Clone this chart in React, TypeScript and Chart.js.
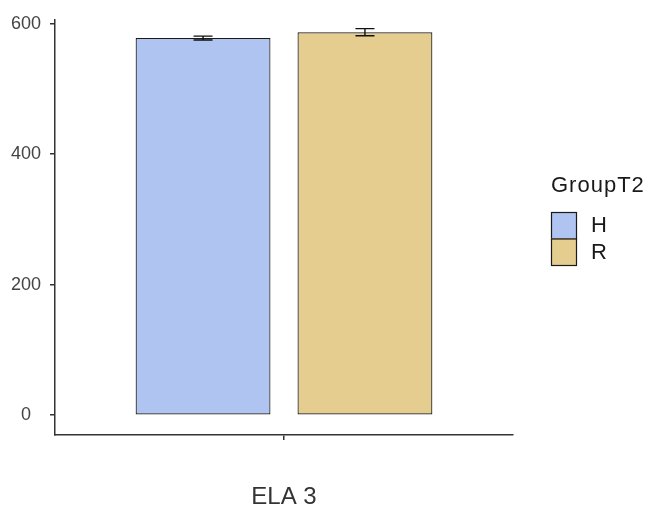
import React, { useEffect, useRef } from "react";
import { Chart, registerables } from "chart.js";

Chart.register(...registerables);

const categories = ["ELA 3"];
const groupLabels = ["H", "R"];
const groupMeans = [578, 587];
const groupErrors = [3, 5.5];
const groupColors = ["#AFC4F0", "#E5CC8F"];
const yTicks = [0, 200, 400, 600];
const legendTitle = "GroupT2";

const FONT = "'Liberation Sans', Arial, sans-serif";

const errorBarPlugin = {
  id: "errorBars",
  afterDatasetsDraw(chart: any) {
    const ctx = chart.ctx;
    const y = chart.scales.y;
    ctx.save();
    ctx.strokeStyle = "#111";
    ctx.lineWidth = 1.4;
    chart.data.datasets.forEach((ds: any, i: number) => {
      const meta = chart.getDatasetMeta(i);
      meta.data.forEach((bar: any, j: number) => {
        const v = ds.data[j];
        const e = groupErrors[i];
        const x = bar.x;
        const yt = y.getPixelForValue(v + e);
        const yb = y.getPixelForValue(v - e);
        const hw = 9.5;
        ctx.beginPath();
        ctx.moveTo(x, yt);
        ctx.lineTo(x, yb);
        ctx.moveTo(x - hw, yt);
        ctx.lineTo(x + hw, yt);
        ctx.moveTo(x - hw, yb);
        ctx.lineTo(x + hw, yb);
        ctx.stroke();
      });
    });
    ctx.restore();
  },
};

const legendPlugin = {
  id: "customLegend",
  afterDraw(chart: any) {
    const ctx = chart.ctx;
    ctx.save();
    ctx.fillStyle = "#1a1a1a";
    ctx.font = `22px ${FONT}`;
    ctx.textBaseline = "middle";
    ctx.textAlign = "left";
    try {
      (ctx as any).letterSpacing = "1px";
    } catch (e) {}
    ctx.fillText(legendTitle, 551, 186);
    try {
      (ctx as any).letterSpacing = "0px";
    } catch (e) {}
    const x0 = 551;
    const y0 = 212;
    const w = 25;
    const h = 26.5;
    groupLabels.forEach((lab, i) => {
      const yy = y0 + i * h;
      ctx.fillStyle = groupColors[i];
      ctx.fillRect(x0, yy, w, h);
      ctx.strokeStyle = "#1a1a1a";
      ctx.lineWidth = 1.2;
      ctx.strokeRect(x0 + 0.5, yy + 0.5, w, h);
      ctx.fillStyle = "#1a1a1a";
      ctx.font = `22px ${FONT}`;
      ctx.fillText(lab, 591, yy + h / 2 + 1);
    });
    ctx.restore();
  },
};

export default function App() {
  const ref = useRef<HTMLCanvasElement>(null);
  useEffect(() => {
    if (!ref.current) return;
    const chart = new Chart(ref.current, {
      type: "bar",
      data: {
        labels: categories,
        datasets: groupLabels.map((lab, i) => ({
          label: lab,
          data: [groupMeans[i]],
          backgroundColor: groupColors[i],
          borderColor: "#1a1a1a",
          borderWidth: 1.2,
          borderSkipped: false,
          barPercentage: 0.833,
          categoryPercentage: 0.707,
        })),
      },
      options: {
        animation: false,
        responsive: false,
        maintainAspectRatio: false,
        layout: { padding: { left: 0, right: 140, top: 15, bottom: 0 } },
        plugins: {
          legend: { display: false },
          tooltip: { enabled: false },
        },
        scales: {
          x: {
            grid: {
              drawOnChartArea: false,
              drawTicks: true,
              offset: false,
              tickLength: 5,
              color: "#333",
              lineWidth: 1.5,
            },
            border: { display: true, color: "#333", width: 1.5 },
            ticks: {
              color: "#333",
              font: { family: FONT, size: 24 },
              padding: 43,
            },
            afterFit(scale: any) {
              scale.height = 74;
            },
          },
          y: {
            min: -30.3,
            max: 606,
            afterBuildTicks(scale: any) {
              scale.ticks = yTicks.map((v) => ({ value: v }));
            },
            grid: {
              drawOnChartArea: false,
              drawTicks: true,
              tickLength: 5,
              color: "#333",
              lineWidth: 1.5,
            },
            border: { display: true, color: "#333", width: 1.5 },
            ticks: {
              color: "#444",
              font: { family: FONT, size: 18 },
              padding: 9,
              crossAlign: "center",
            },
            afterFit(scale: any) {
              scale.width = 55;
            },
          },
        },
      },
      plugins: [errorBarPlugin, legendPlugin],
    });
    return () => chart.destroy();
  }, []);
  return (
    <div style={{ position: "fixed", left: 0, top: 0, width: 653, height: 509, background: "#fff" }}>
      <canvas ref={ref} width={653} height={509} style={{ width: 653, height: 509 }} />
    </div>
  );
}
